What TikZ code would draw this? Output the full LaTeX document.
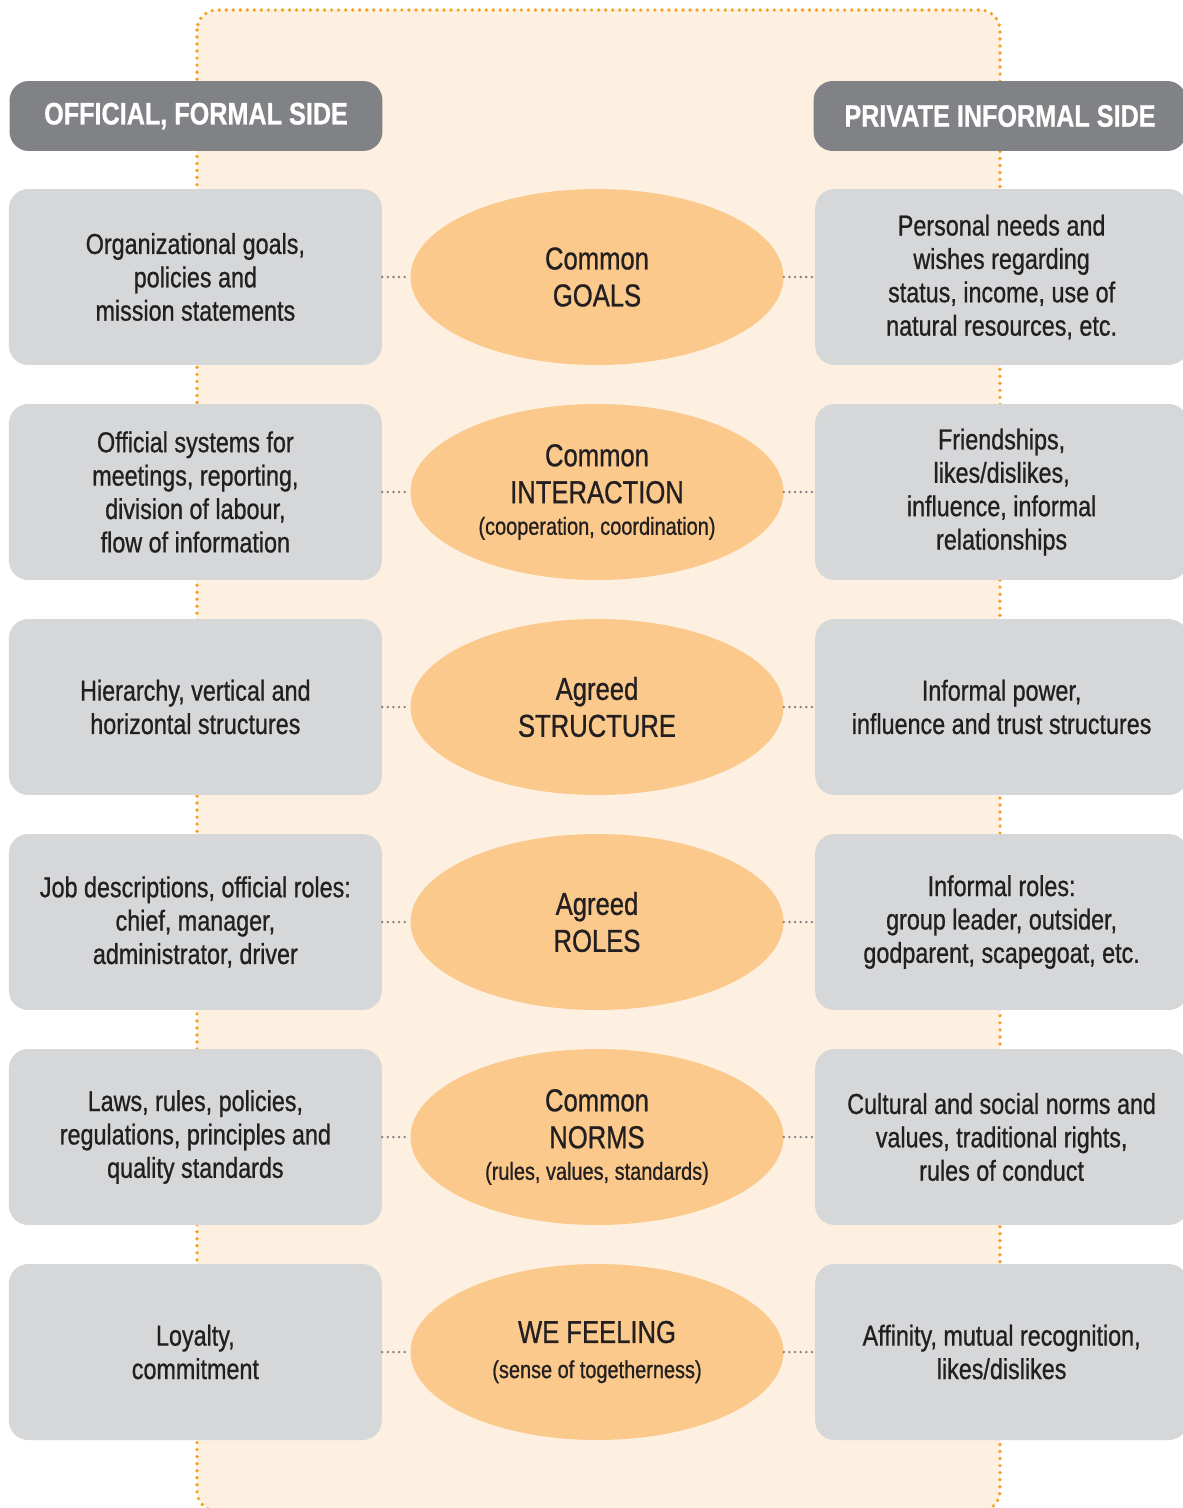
\documentclass[tikz,border=0pt]{standalone}
\usepackage{fontspec}
\setmainfont{Liberation Sans}[FakeStretch=0.81, FakeBold=0.8]
\usetikzlibrary{positioning,shapes.geometric}
\definecolor{bgfill}{HTML}{FEF0E1}
\definecolor{bgline}{HTML}{F6A020}
\definecolor{boxgray}{HTML}{D6D7D9}
\definecolor{headgray}{HTML}{818285}
\definecolor{ellfill}{HTML}{FAC98B}
\definecolor{dotgray}{HTML}{7E7F82}
\definecolor{ink}{HTML}{231F20}
\tikzset{
  sidebox/.style={
    rectangle,
    rounded corners=11pt,
    fill=boxgray,
    minimum width=7.46cm,
    minimum height=3.52cm,
    align=center,
    text=ink,
    font=\fontsize{16.4}{19}\selectfont},
  headbox/.style={
    rectangle,
    rounded corners=11pt,
    fill=headgray,
    minimum width=7.46cm,
    minimum height=1.4cm,
    text=white,
    font=\fontsize{17.7}{20}\selectfont\bfseries},
  core/.style={
    ellipse,
    fill=ellfill,
    minimum width=7.46cm,
    minimum height=3.52cm,
    inner sep=0pt,
    align=center,
    text=ink,
    font=\fontsize{18}{21}\selectfont},
  link/.style={draw=dotgray, line width=1.5pt, line cap=round,
    dash pattern=on 0pt off 3.2pt},
}
\newcommand{\subline}[1]{{\fontsize{14}{16}\selectfont #1}}

\begin{document}
\begin{tikzpicture}[x=0.02cm, y=-0.02cm]

      \clip (0,0) rectangle (1183,1508);
      \fill[white] (0,0) rectangle (1183,1508);
      \draw[bgline, fill=bgfill, line width=2.1pt, line cap=round,
        dash pattern=on 0pt off 4pt, rounded corners=0.4cm] (197,10) rectangle (1000,1511);

      % headers
      \node[headbox] (formal) at (196,116) {OFFICIAL, FORMAL SIDE};
      \node[headbox] (informal) at (1000,116) {PRIVATE INFORMAL SIDE};

      % middle column
      \node[core] (goals) at (597,277) {Common\\GOALS};
      \node[core] (inter) at (597,492) {Common\\INTERACTION\\[-3pt]\subline{(cooperation, coordination)}};
      \node[core] (struct) at (597,707) {Agreed\\STRUCTURE};
      \node[core] (roles) at (597,922) {Agreed\\ROLES};
      \node[core] (norms) at (597,1137) {Common\\NORMS\\[-3pt]\subline{(rules, values, standards)}};
      \node[core] (we) at (597,1352) {WE FEELING\\[-1pt]\subline{(sense of togetherness)}};

      % formal side
      \node[sidebox, left=0.56cm of goals] (f1) {Organizational goals,\\policies and\\mission statements};
      \node[sidebox, left=0.56cm of inter] (f2) {Official systems for\\meetings, reporting,\\division of labour,\\flow of information};
      \node[sidebox, left=0.56cm of struct] (f3) {Hierarchy, vertical and\\horizontal structures};
      \node[sidebox, left=0.56cm of roles] (f4) {Job descriptions, official roles:\\chief, manager,\\administrator, driver};
      \node[sidebox, left=0.56cm of norms] (f5) {Laws, rules, policies,\\regulations, principles and\\quality standards};
      \node[sidebox, left=0.56cm of we] (f6) {Loyalty,\\commitment};

      % informal side
      \node[sidebox, right=0.62cm of goals] (p1) {Personal needs and\\wishes regarding\\status, income, use of\\natural resources, etc.};
      \node[sidebox, right=0.62cm of inter] (p2) {Friendships,\\likes/dislikes,\\influence, informal\\relationships};
      \node[sidebox, right=0.62cm of struct] (p3) {Informal power,\\influence and trust structures};
      \node[sidebox, right=0.62cm of roles] (p4) {Informal roles:\\group leader, outsider,\\godparent, scapegoat, etc.};
      \node[sidebox, right=0.62cm of norms] (p5) {Cultural and social norms and\\values, traditional rights,\\rules of conduct};
      \node[sidebox, right=0.62cm of we] (p6) {Affinity, mutual recognition,\\likes/dislikes};

      \foreach \f/\c/\p in {f1/goals/p1, f2/inter/p2, f3/struct/p3, f4/roles/p4, f5/norms/p5, f6/we/p6}{
        \draw[link] (\f.east) -- (\c.west);
        \draw[link] (\c.east) -- (\p.west);
      }
    \end{tikzpicture}
\end{document}
